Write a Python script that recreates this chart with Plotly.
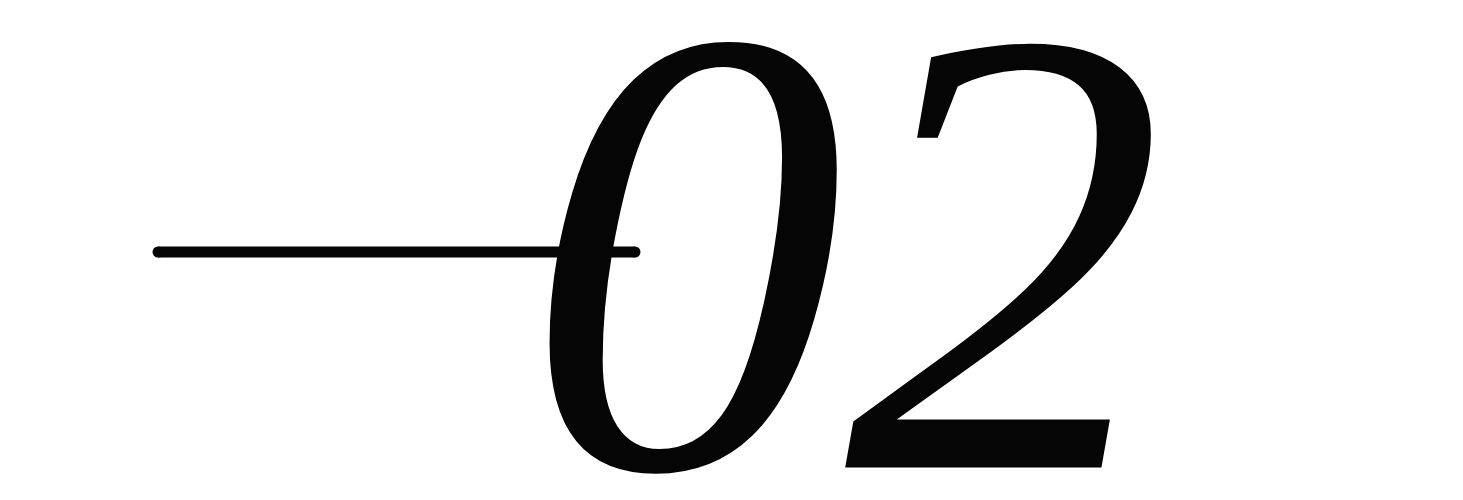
import plotly.graph_objects as go

# series: one short horizontal stroke and its label
series_x = [0, 1]
series_y = [0, 0]
label_x = [1.44]
label_y = [-0.222]
label_text = ["02"]

fig = go.Figure()

fig.add_trace(go.Scatter(
    x=series_x, y=series_y,
    mode="lines+markers",
    line=dict(color="#050505", width=11),
    marker=dict(color="#050505", size=11, line=dict(width=0)),
    showlegend=False, hoverinfo="skip"
))

fig.add_trace(go.Scatter(
    x=label_x, y=label_y,
    mode="text",
    text=label_text,
    textposition="middle center",
    textfont=dict(family="Liberation Serif", size=640, color="#050505", style="italic"),
    showlegend=False, hoverinfo="skip"
))

fig.update_layout(
    width=1463, height=500,
    margin=dict(l=0, r=0, t=0, b=0),
    paper_bgcolor="white", plot_bgcolor="white",
    xaxis=dict(visible=False, range=[-0.3145, 2.7526]),
    yaxis=dict(visible=False, range=[-1.024, 0.976]),
)

fig.write_html("out.html")
